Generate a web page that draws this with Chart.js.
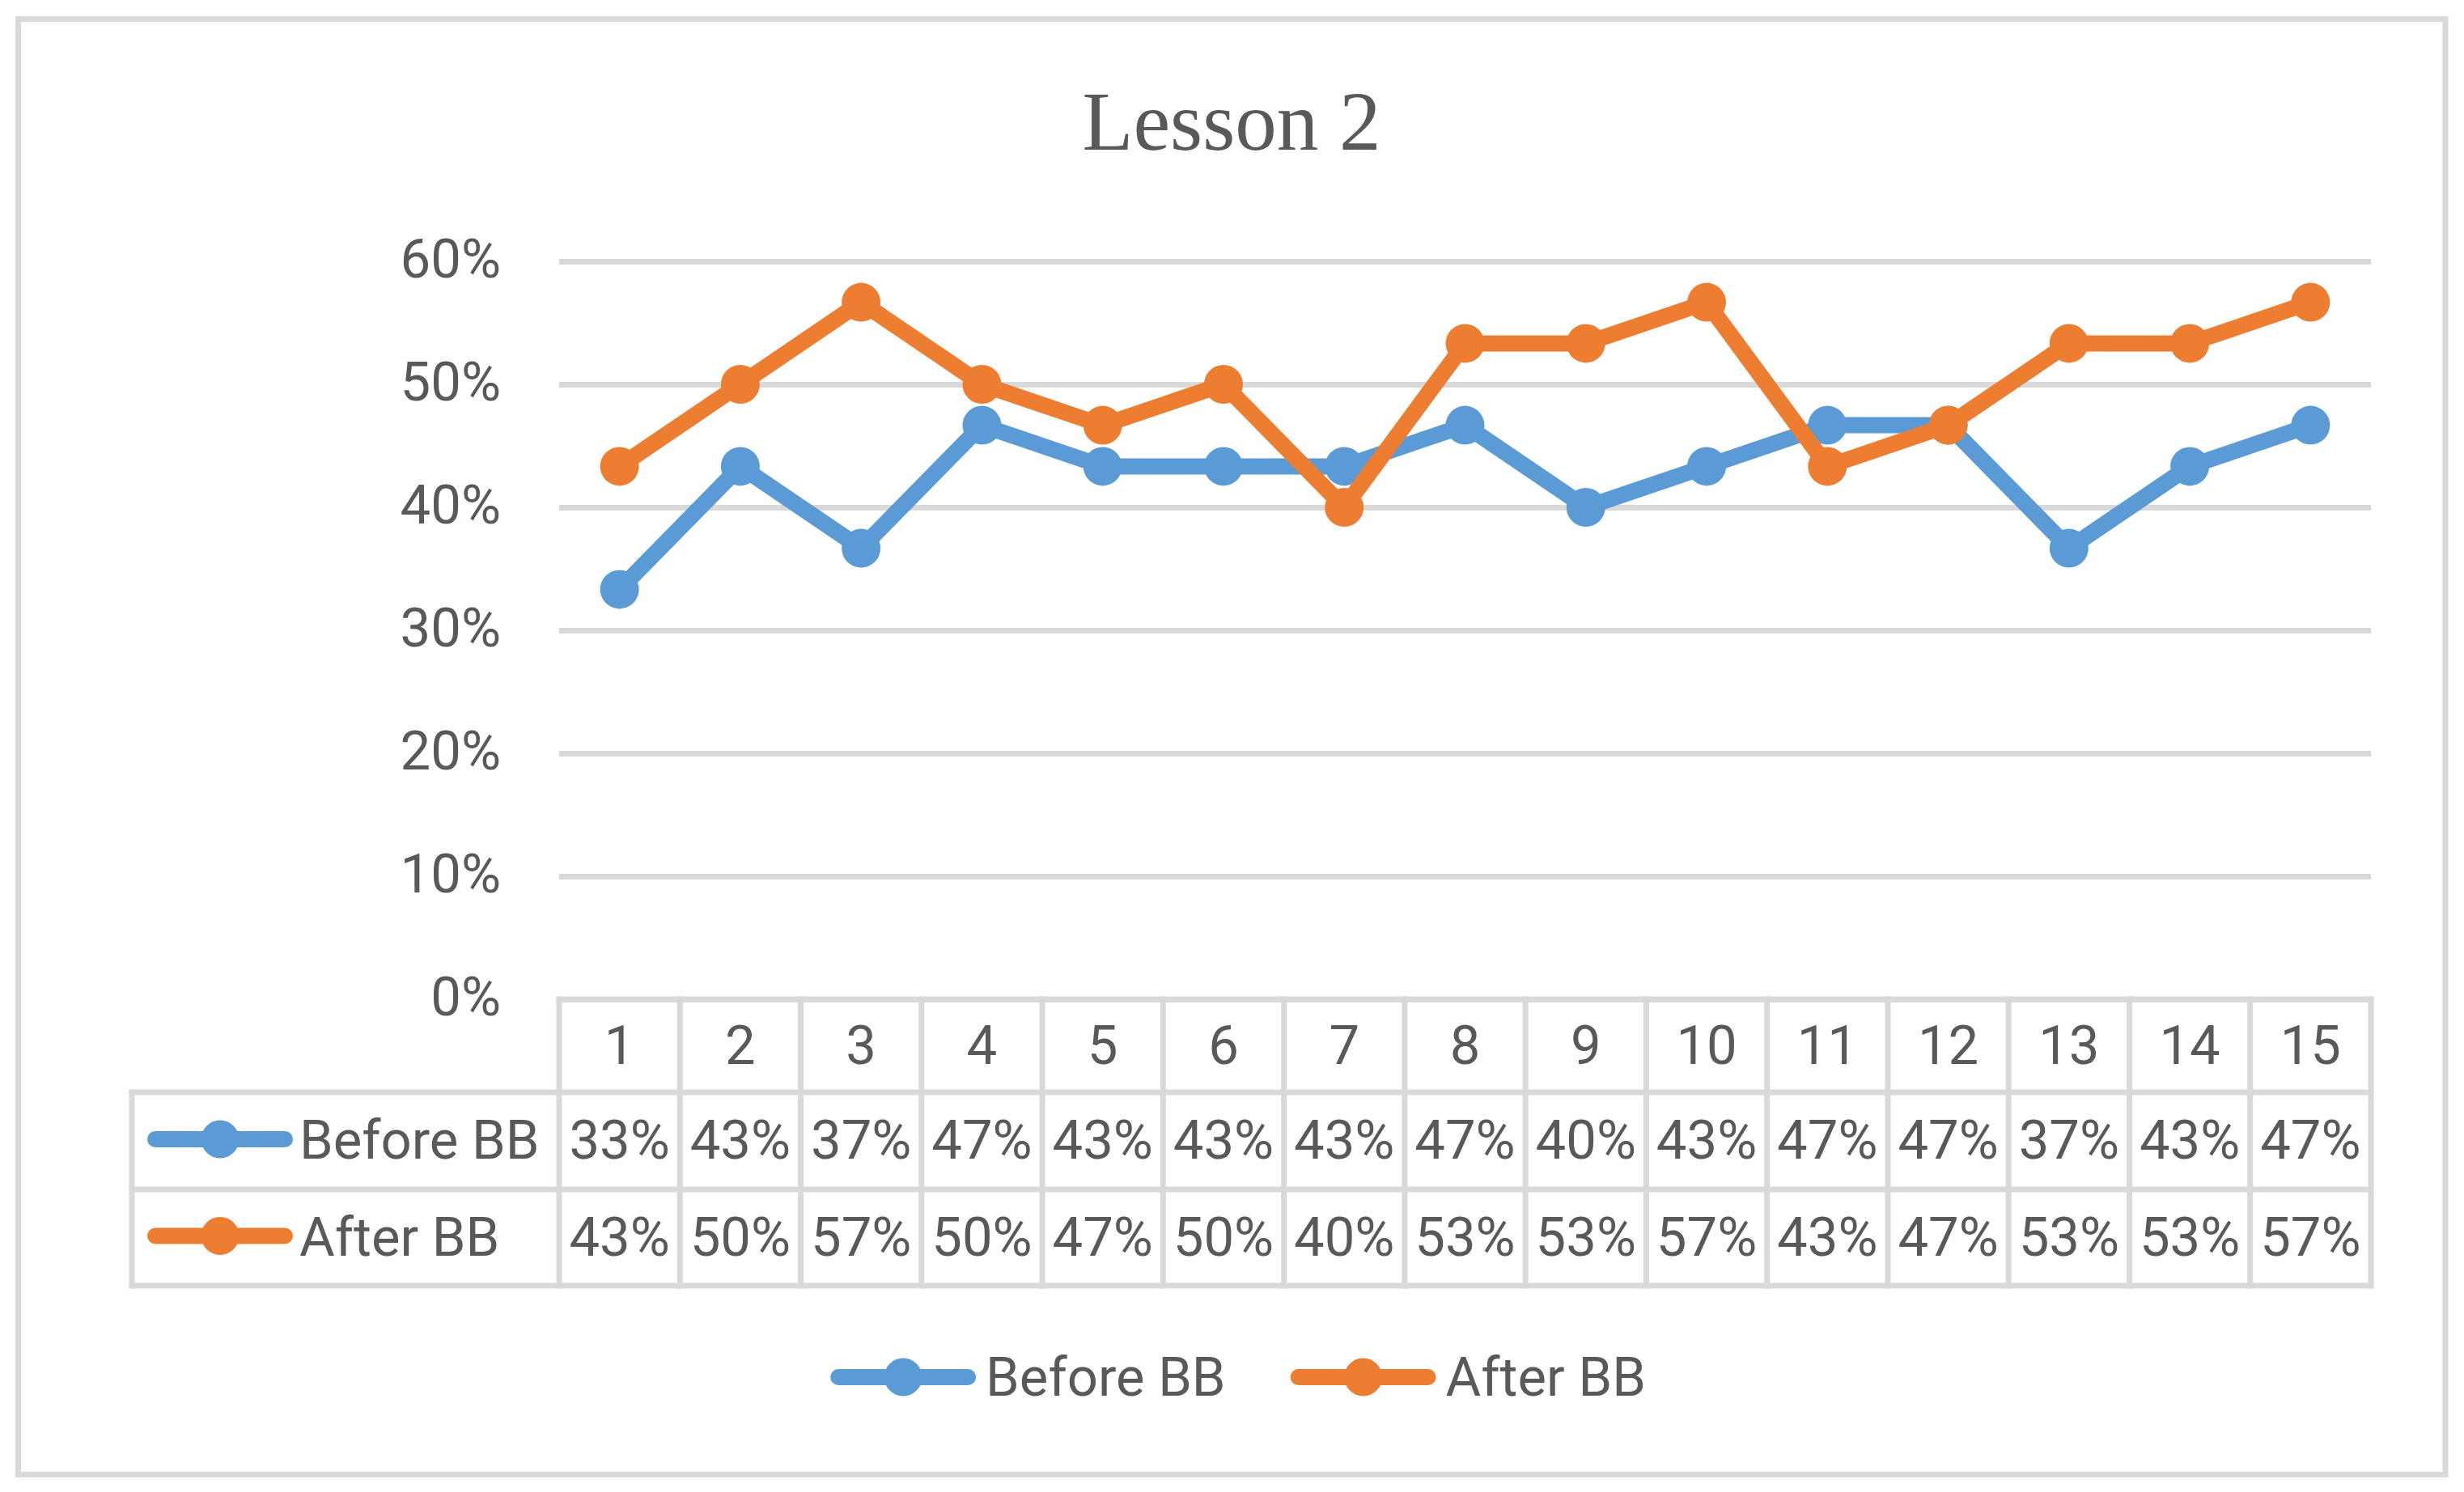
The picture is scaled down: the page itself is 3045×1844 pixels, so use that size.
<!DOCTYPE html>
<html><head><meta charset="utf-8">
<style>html,body{margin:0;padding:0;background:#fff;}canvas{display:block;}</style>
<script src="https://cdn.jsdelivr.net/npm/chart.js@4.4.1/dist/chart.umd.min.js"></script>
</head><body>
<canvas id="c" width="3045" height="1844" style="width:3045px;height:1844px"></canvas>
<script>
// ---- data ----
const categories = ['1','2','3','4','5','6','7','8','9','10','11','12','13','14','15'];
const beforeBB = [33.33, 43.33, 36.67, 46.67, 43.33, 43.33, 43.33, 46.67, 40.00, 43.33, 46.67, 46.67, 36.67, 43.33, 46.67];
const afterBB  = [43.33, 50.00, 56.67, 50.00, 46.67, 50.00, 40.00, 53.33, 53.33, 56.67, 43.33, 46.67, 53.33, 53.33, 56.67];
const seriesNames = ['Before BB', 'After BB'];
const yMin = 0, yMax = 60, yStep = 10;
const titleText = 'Lesson 2';

// ---- style ----
const BLUE = '#5b9bd5', ORANGE = '#ed7d31', TEXT = '#595959', GRID = '#d9d9d9';
const FONT = 'Roboto';
const FS = 67;

function drawIcon(ctx, x, cy, color) {
  ctx.save();
  ctx.strokeStyle = color; ctx.lineWidth = 20; ctx.lineCap = 'round';
  ctx.beginPath(); ctx.moveTo(x + 10, cy); ctx.lineTo(x + 170, cy); ctx.stroke();
  ctx.fillStyle = color;
  ctx.beginPath(); ctx.arc(x + 90, cy, 23.5, 0, Math.PI * 2); ctx.fill();
  ctx.restore();
}

const frame = {
  id: 'frame',
  beforeDraw(chart) {
    const ctx = chart.ctx;
    ctx.save();
    ctx.fillStyle = '#fff';
    ctx.fillRect(0, 0, chart.width, chart.height);
    ctx.strokeStyle = GRID; ctx.lineWidth = 7;
    ctx.strokeRect(22.5, 23.5, chart.width - 45.5, chart.height - 45);
    ctx.restore();
  }
};

const dataTable = {
  id: 'dataTable',
  afterDraw(chart) {
    const ctx = chart.ctx;
    const area = chart.chartArea;
    const xs = chart.scales.x;
    const top = area.bottom;
    const rows = [top, top + 115, top + 235, top + 354];
    const tableLeft = 163;
    const half = (xs.getPixelForValue(1) - xs.getPixelForValue(0)) / 2;
    const line = (a, b, c, d) => { ctx.beginPath(); ctx.moveTo(a, b); ctx.lineTo(c, d); ctx.stroke(); };
    ctx.save();
    ctx.strokeStyle = GRID; ctx.lineWidth = 7; ctx.lineCap = 'square';
    line(area.left, rows[0], area.right, rows[0]);
    for (let r = 1; r < rows.length; r++) line(tableLeft, rows[r], area.right, rows[r]);
    for (let i = 0; i <= categories.length; i++) {
      const bx = xs.getPixelForValue(Math.min(i, categories.length - 1)) + (i === categories.length ? half : -half);
      line(bx, rows[0], bx, rows[3]);
    }
    line(tableLeft, rows[1], tableLeft, rows[3]);

    ctx.fillStyle = TEXT;
    ctx.font = FS + 'px ' + FONT;
    ctx.textBaseline = 'alphabetic';
    ctx.textAlign = 'center';
    const mid = r => (rows[r] + rows[r + 1]) / 2;
    const series = [beforeBB, afterBB];
    categories.forEach((c, i) => {
      const cx = xs.getPixelForValue(i);
      ctx.fillText(c, cx, mid(0) + 22);
      series.forEach((s, k) => ctx.fillText(Math.round(s[i]) + '%', cx, mid(k + 1) + 22));
    });
    const colors = [BLUE, ORANGE];
    ctx.textAlign = 'left';
    seriesNames.forEach((name, k) => {
      drawIcon(ctx, tableLeft + 19, mid(k + 1) - 2, colors[k]);
      ctx.fillStyle = TEXT;
      ctx.fillText(name, tableLeft + 207, mid(k + 1) + 22);
    });

    // legend
    const ly = 1702;
    const w1 = ctx.measureText(seriesNames[0]).width;
    const w2 = ctx.measureText(seriesNames[1]).width;
    const total = 180 + 12 + w1 + 80 + 180 + 12 + w2;
    let lx = chart.width / 2 + 7.5 - total / 2;
    drawIcon(ctx, lx, ly, BLUE);
    ctx.fillStyle = TEXT;
    ctx.fillText(seriesNames[0], lx + 192, ly + 23);
    lx += 192 + w1 + 80;
    drawIcon(ctx, lx, ly, ORANGE);
    ctx.fillStyle = TEXT;
    ctx.fillText(seriesNames[1], lx + 192, ly + 23);
    ctx.restore();
  }
};

new Chart(document.getElementById('c'), {
  type: 'line',
  data: {
    labels: categories,
    datasets: [
      { label: seriesNames[0], data: beforeBB, borderColor: BLUE, backgroundColor: BLUE,
        borderWidth: 20, pointRadius: 24, pointHoverRadius: 24, pointBorderWidth: 0,
        pointBackgroundColor: BLUE, tension: 0, borderJoinStyle: 'round', order: 2 },
      { label: seriesNames[1], data: afterBB, borderColor: ORANGE, backgroundColor: ORANGE,
        borderWidth: 20, pointRadius: 24, pointHoverRadius: 24, pointBorderWidth: 0,
        pointBackgroundColor: ORANGE, tension: 0, borderJoinStyle: 'round', order: 1 }
    ]
  },
  options: {
    responsive: false,
    animation: false,
    devicePixelRatio: 1,
    layout: { padding: { left: 114, right: 115, top: 0, bottom: 0 } },
    plugins: {
      legend: { display: false },
      tooltip: { enabled: false },
      title: {
        display: true, text: titleText, color: TEXT,
        font: { family: 'Liberation Serif', size: 103, weight: 'normal', lineHeight: 1.2 },
        padding: { top: 96, bottom: 103.4 }
      }
    },
    scales: {
      x: {
        offset: true,
        grid: { display: false },
        border: { display: false },
        ticks: { display: false },
        afterFit: s => { s.height = 609; }
      },
      y: {
        min: yMin, max: yMax,
        grid: { color: GRID, lineWidth: 7, drawTicks: false },
        border: { display: false },
        ticks: { stepSize: yStep, padding: 72, labelOffset: 3, color: TEXT, font: { family: FONT, size: FS },
                 callback: v => v + '%' },
        afterFit: s => { s.width = 577; }
      }
    }
  },
  plugins: [frame, dataTable]
});
</script>
</body></html>
